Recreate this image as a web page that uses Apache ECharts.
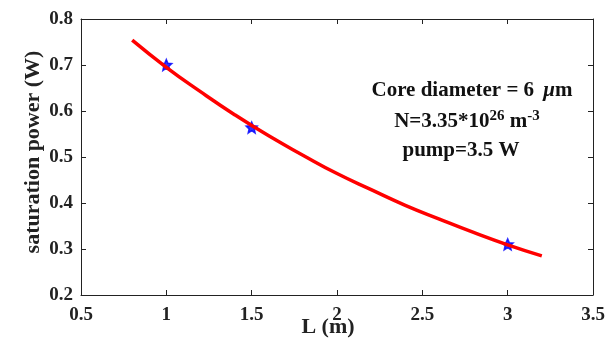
<!DOCTYPE html>
<html><head><meta charset="utf-8">
<script src="https://cdn.jsdelivr.net/npm/echarts@6/dist/echarts.min.js"></script>
<style>html,body{margin:0;padding:0;background:#fff}#c{width:612px;height:342px}</style>
</head><body><div id="c"></div>
<script>
// Fitted curve
var curveL = [0.8, 1.0, 1.2, 1.4, 1.6, 1.8, 2.0, 2.2, 2.4, 2.6, 2.8, 3.0, 3.2];
var curveP = [0.754, 0.695, 0.642, 0.592, 0.546, 0.504, 0.464, 0.429, 0.395, 0.365, 0.336, 0.309, 0.285];
// Measured points
var pointL = [1.0, 1.5, 3.0];
var pointP = [0.700, 0.564, 0.310];
// Axis ticks
var xTicks = [0.5, 1, 1.5, 2, 2.5, 3, 3.5];
var yTicks = [0.2, 0.3, 0.4, 0.5, 0.6, 0.7, 0.8];

var FONT = '"Liberation Serif", "Times New Roman", serif';
var chart = echarts.init(document.getElementById('c'));
function pairs(a, b) { return a.map(function (v, i) { return [v, b[i]]; }); }
var star = 'path://M0,-10 L2.8,-3.5 L9.5,-3 L4.5,1.8 L6,9 L0,5 L-6,9 L-4.5,1.8 L-9.5,-3 L-2.8,-3.5 Z';

var axisCommon = {
  axisLine: { show: true, onZero: false, lineStyle: { color: '#222', width: 1 } },
  axisTick: { show: true, inside: true, length: 5, lineStyle: { color: '#222' } },
  splitLine: { show: false },
  nameMoveOverlap: false
};
chart.setOption({
  animation: false,
  grid: { left: 81, right: 19, top: 19, bottom: 47, containLabel: false, outerBoundsMode: 'none' },
  xAxis: [
    Object.assign({
      type: 'value', min: xTicks[0], max: xTicks[xTicks.length - 1], interval: 0.5,
      axisLabel: { color: '#222', fontFamily: FONT, fontWeight: 'bold', fontSize: 19, margin: 11,
        formatter: function (v) { return String(v); } },
      name: 'L (m)', nameLocation: 'middle', nameGap: 21,
      nameTextStyle: { color: '#222', fontFamily: FONT, fontWeight: 'bold', fontSize: 22, verticalAlign: 'top', padding: [0, 18, 0, 0] }
    }, axisCommon),
    Object.assign({
      type: 'value', position: 'top', min: xTicks[0], max: xTicks[xTicks.length - 1], interval: 0.5,
      axisLabel: { show: false }
    }, axisCommon)
  ],
  yAxis: [
    Object.assign({
      type: 'value', min: yTicks[0], max: yTicks[yTicks.length - 1], interval: 0.1,
      axisLabel: { color: '#222', fontFamily: FONT, fontWeight: 'bold', fontSize: 19, margin: 8,
        formatter: function (v) { return v.toFixed(1); } },
      name: 'saturation power (W)', nameLocation: 'middle', nameGap: 37,
      nameTextStyle: { color: '#222', fontFamily: FONT, fontWeight: 'bold', fontSize: 22, padding: [0, 0, 0, 10] }
    }, axisCommon),
    Object.assign({
      type: 'value', position: 'right', min: yTicks[0], max: yTicks[yTicks.length - 1], interval: 0.1,
      axisLabel: { show: false }
    }, axisCommon)
  ],
  series: [
    {
      type: 'line', data: pairs(curveL, curveP), smooth: true, symbol: 'none',
      lineStyle: { color: '#ff0000', width: 3.5 }, z: 3
    },
    {
      type: 'scatter', data: pairs(pointL, pointP), symbol: star, symbolSize: 11,
      itemStyle: { color: '#0000ff', borderColor: '#0000ff', borderWidth: 1.5 }, z: 2
    }
  ],
  graphic: [
    { type: 'text', x: 472, y: 91, silent: true,
      style: { text: '{b|Core diameter = 6 }{i|\u03bc}{b|m}', align: 'center', verticalAlign: 'middle',
        rich: { b: { fontFamily: FONT, fontWeight: 'bold', fontSize: 21, fill: '#111' },
                i: { fontFamily: FONT, fontStyle: 'italic', fontWeight: 'bold', fontSize: 21, fill: '#111', padding: [0, 0, 0, 4] } } } },
    { type: 'text', x: 467, y: 122, silent: true,
      style: { text: '{b|N=3.35*10}{s|26}{b| m}{s|-3}', align: 'center', verticalAlign: 'middle',
        rich: { b: { fontFamily: FONT, fontWeight: 'bold', fontSize: 21, fill: '#111' },
                s: { fontFamily: FONT, fontWeight: 'bold', fontSize: 15, fill: '#111', verticalAlign: 'top', padding: [0, 0, 12, 0] } } } },
    { type: 'text', x: 461, y: 151, silent: true,
      style: { text: 'pump=3.5 W', align: 'center', verticalAlign: 'middle',
        fontFamily: FONT, fontWeight: 'bold', fontSize: 21, fill: '#111' } }
  ]
});
</script></body></html>
